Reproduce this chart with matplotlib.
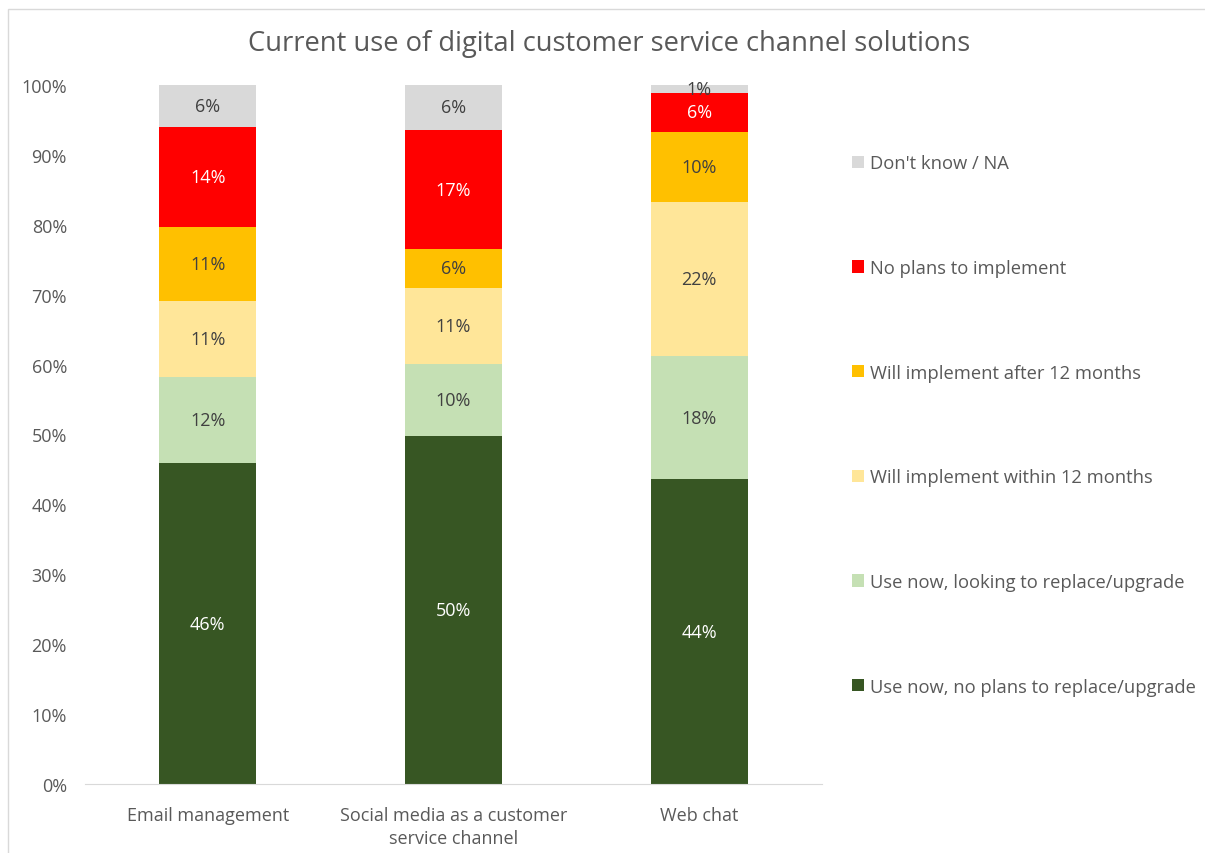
import matplotlib.pyplot as plt
from matplotlib.patches import Rectangle
import numpy as np

plt.rcParams['font.family'] = ['Open Sans', 'DejaVu Sans']

categories = ["Email management", "Social media as a customer\nservice channel", "Web chat"]
series = [
    "Use now, no plans to replace/upgrade",
    "Use now, looking to replace/upgrade",
    "Will implement within 12 months",
    "Will implement after 12 months",
    "No plans to implement",
    "Don't know / NA",
]
use_no_upgrade = [45.9, 49.8, 43.6]
use_replace = [12.3, 10.3, 17.6]
within_12 = [10.9, 10.9, 22.1]
after_12 = [10.6, 5.5, 10.0]
no_plans = [14.3, 17.1, 5.6]
dont_know = [6.0, 6.4, 1.1]
shown = [
    ["46%", "50%", "44%"],
    ["12%", "10%", "18%"],
    ["11%", "11%", "22%"],
    ["11%", "6%", "10%"],
    ["14%", "17%", "6%"],
    ["6%", "6%", "1%"],
]

colors = ["#375623", "#C5E0B4", "#FFE699", "#FFC000", "#FF0000", "#D9D9D9"]
label_colors = ["white", "#404040", "#404040", "#404040", "white", "#404040"]
text_gray = "#595959"

fig = plt.figure(figsize=(12.05, 8.54), dpi=100)
ax = fig.add_axes([85 / 1205, 69 / 854, 737 / 1205, 699 / 854])

# chart border, cut off at right and bottom like the source
fig.patches.append(Rectangle((8 / 1205, -0.1), 1.2, (854 - 10) / 854 + 0.1,
                             transform=fig.transFigure, fill=False,
                             edgecolor="#D9D9D9", linewidth=1))

x = np.arange(len(categories))
bottom = np.zeros(len(categories))
handles = []
for i, vals in enumerate([use_no_upgrade, use_replace, within_12, after_12, no_plans, dont_know]):
    vals = np.array(vals) / 100
    bars = ax.bar(x, vals, 0.395, bottom=bottom, color=colors[i], label=series[i])
    ax.bar_label(bars, labels=shown[i], label_type="center", color=label_colors[i], fontsize=13)
    bottom += vals
    handles.append(bars)

ax.set_xlim(-0.5, 2.5)
ax.set_ylim(0, 1)
ax.set_yticks(np.arange(0, 1.01, 0.1))
ax.set_yticklabels([f"{int(round(t * 100))}%" for t in np.arange(0, 1.01, 0.1)])
ax.set_xticks(x)
ax.set_xticklabels(categories, linespacing=1.35)
ax.tick_params(axis="both", length=0, labelsize=13, colors=text_gray)
ax.tick_params(axis="y", pad=13)
ax.tick_params(axis="x", pad=16)
for s in ["top", "right", "left"]:
    ax.spines[s].set_visible(False)
ax.spines["bottom"].set_color("#D9D9D9")

fig.text(609 / 1205, 1 - 44 / 854, "Current use of digital customer service channel solutions",
         ha="center", va="center", fontsize=19.7, color=text_gray)

leg = ax.legend(handles[::-1], series[::-1], loc="upper left",
                bbox_to_anchor=(843 / 1205, 1 - 146 / 854), bbox_transform=fig.transFigure,
                frameon=False, fontsize=13.2, labelcolor=text_gray,
                handlelength=0.65, handleheight=0.65, handletextpad=0.3,
                labelspacing=4.73, borderpad=0)

fig.savefig("out.png", dpi=100)
